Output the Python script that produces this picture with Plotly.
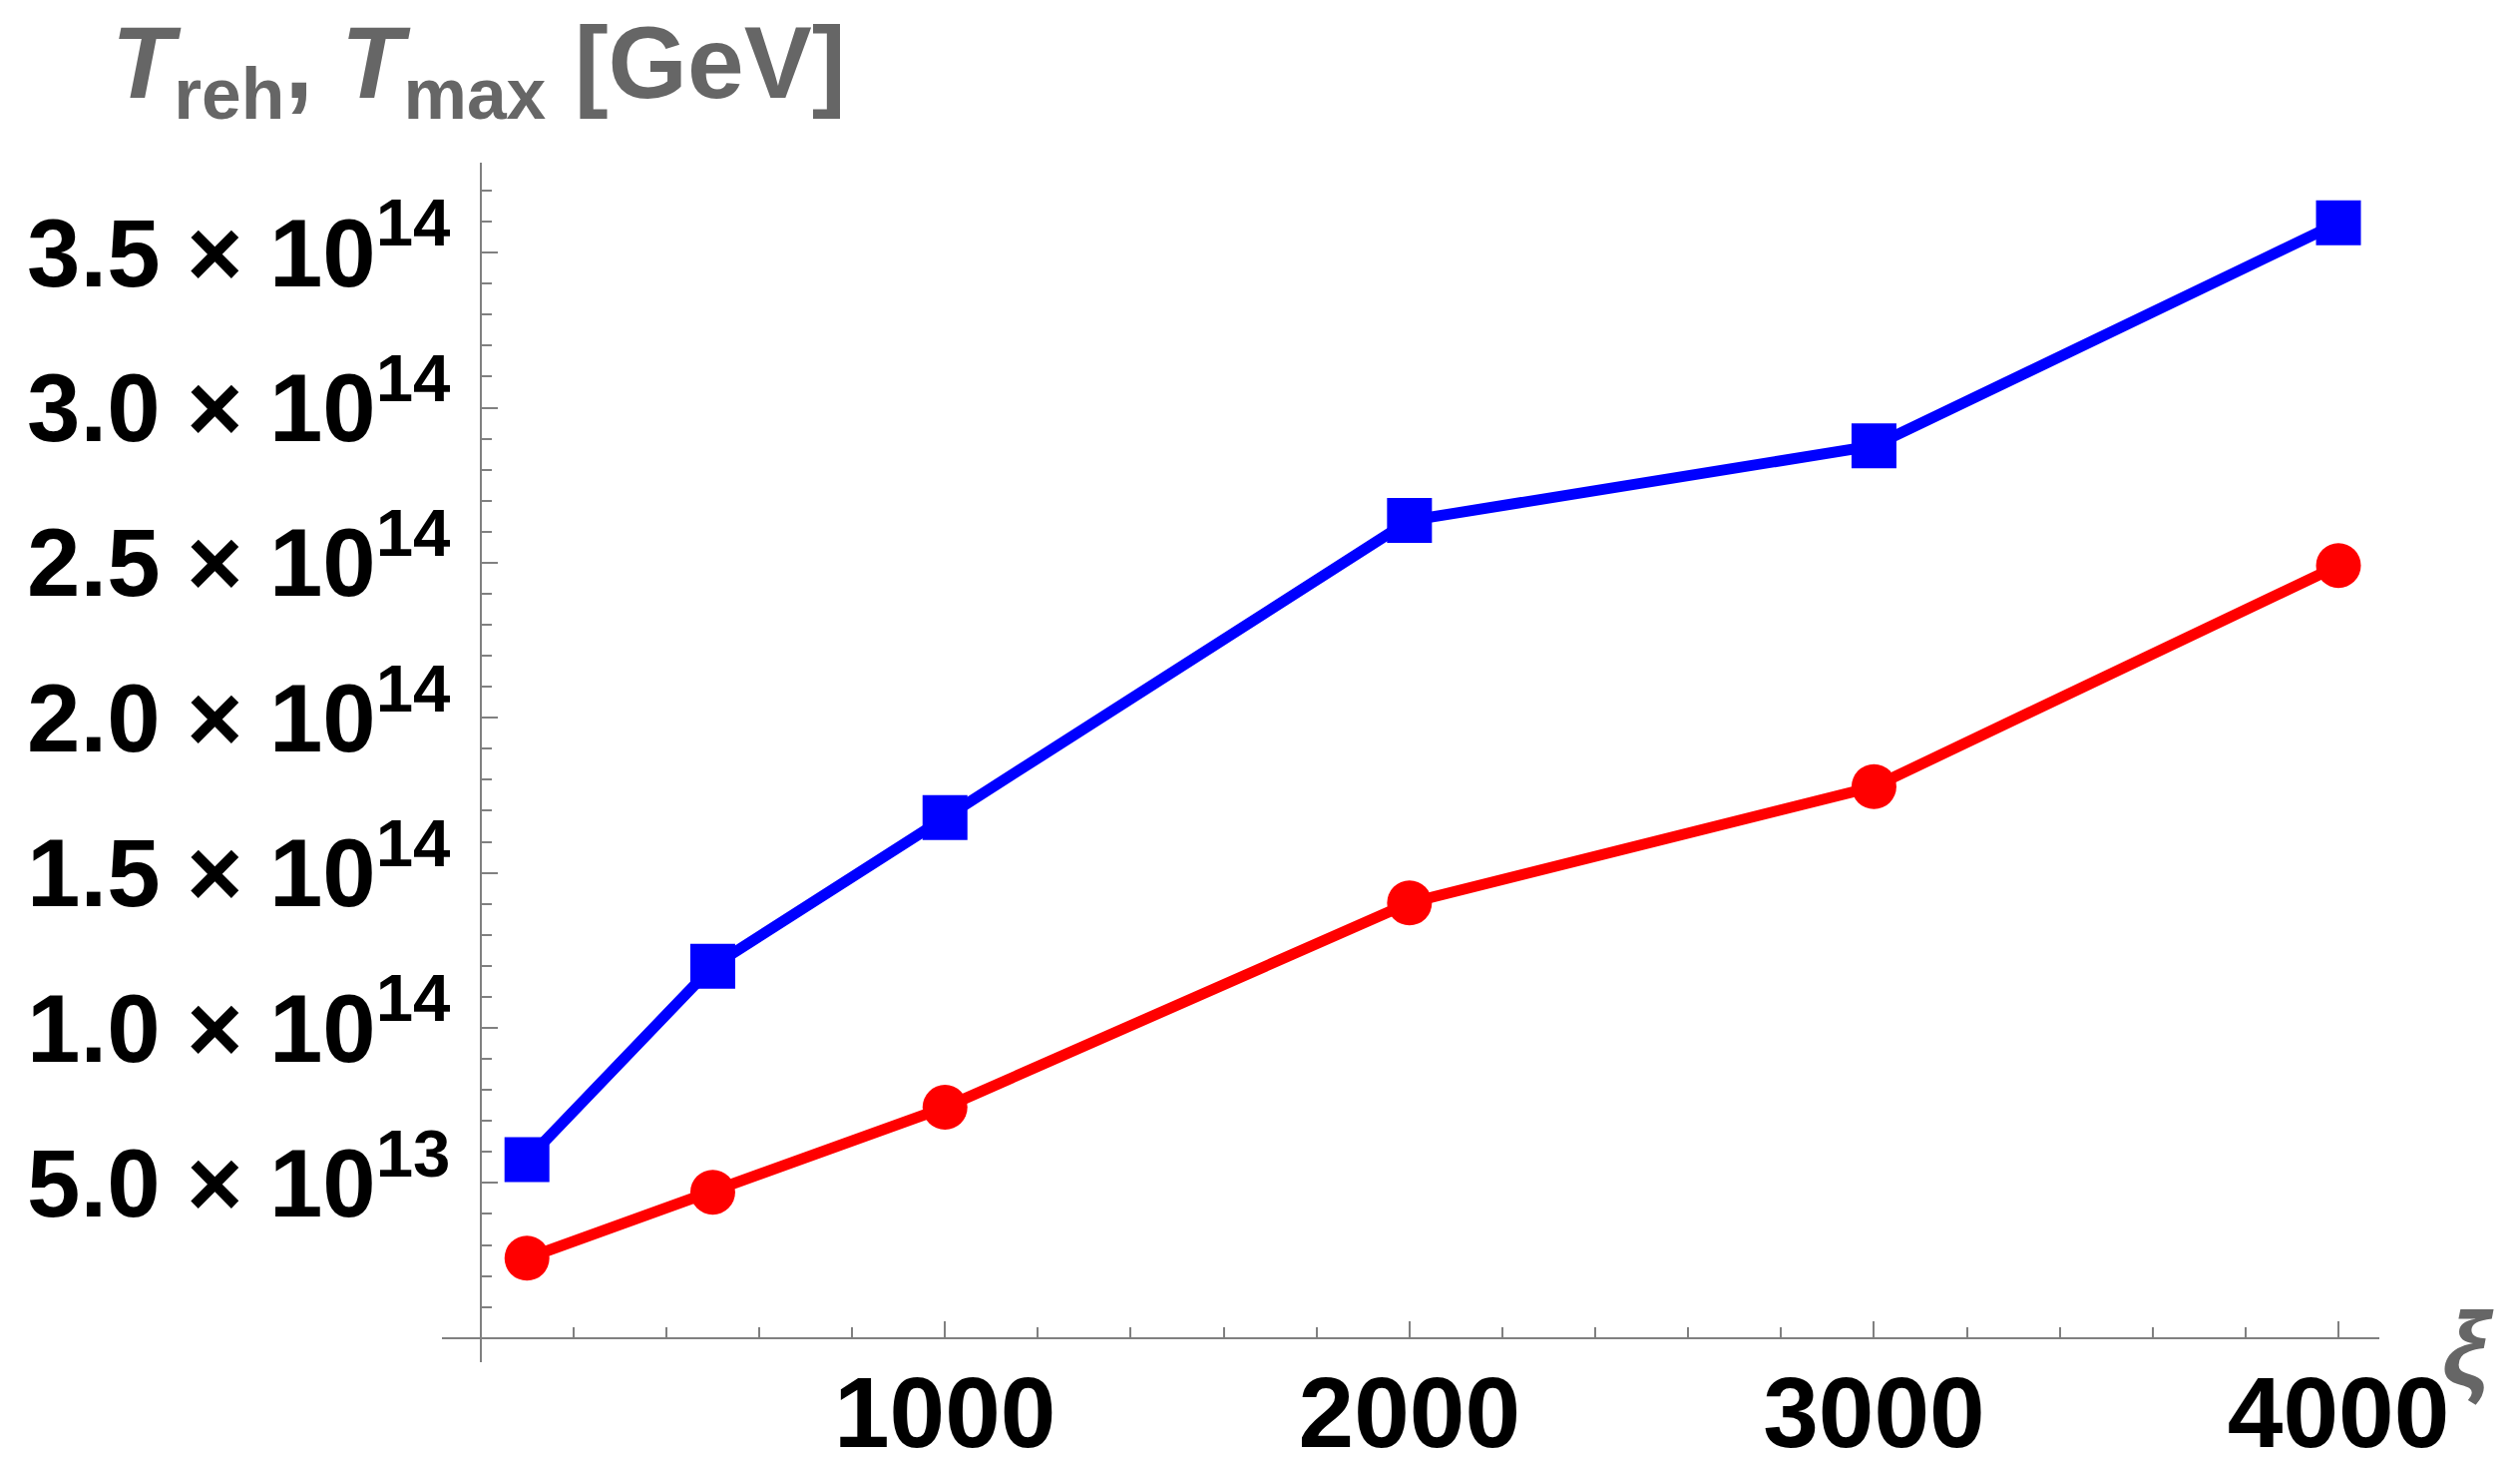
import plotly.graph_objects as go

# ---- data ----
xi_values = [100, 500, 1000, 2000, 3000, 4000]
T_max = [0.575e14, 1.199e14, 1.678e14, 2.636e14, 2.877e14, 3.596e14]
T_reh = [0.2575e14, 0.470e14, 0.744e14, 1.403e14, 1.778e14, 2.491e14]

x_tick_vals = [1000, 2000, 3000, 4000]
x_tick_text = ["1000", "2000", "3000", "4000"]
y_tick_vals = [0.5e14, 1.0e14, 1.5e14, 2.0e14, 2.5e14, 3.0e14, 3.5e14]
y_tick_text = ["5.0 \u00d7 10<sup>13</sup>", "1.0 \u00d7 10<sup>14</sup>", "1.5 \u00d7 10<sup>14</sup>",
               "2.0 \u00d7 10<sup>14</sup>", "2.5 \u00d7 10<sup>14</sup>", "3.0 \u00d7 10<sup>14</sup>",
               "3.5 \u00d7 10<sup>14</sup>"]

y_label = "<i>T</i><sub>reh</sub>, <i>T</i><sub>max</sub> [GeV]"
x_label = "<i>\u03be</i>"

# ---- geometry ----
W, H = 2526, 1461
ML, MR, MT, MB = 443, 141, 163, 96
X_RANGE = [-83, 4088]
Y_RANGE = [-0.078e14, 3.79e14]
PW, PH = W - ML - MR, H - MT - MB

def px_to_paper_x(px):
    return (px - ML) / PW

def px_to_paper_y(py):
    return (H - MB - py) / PH

AXIS_COLOR = "#808080"
LABEL_GREY = "#666666"
FONT = "Liberation Sans"

fig = go.Figure()
fig.add_trace(go.Scatter(
    x=xi_values, y=T_reh, mode="lines+markers",
    line=dict(color="#ff0000", width=11),
    marker=dict(symbol="circle", size=45, color="#ff0000", line=dict(width=0)),
    name="T_reh", cliponaxis=False))
fig.add_trace(go.Scatter(
    x=xi_values, y=T_max, mode="lines+markers",
    line=dict(color="#0000ff", width=11),
    marker=dict(symbol="square", size=45, color="#0000ff", line=dict(width=0)),
    name="T_max", cliponaxis=False))

x0_paper = (0 - X_RANGE[0]) / (X_RANGE[1] - X_RANGE[0])
y0_paper = (0 - Y_RANGE[0]) / (Y_RANGE[1] - Y_RANGE[0])

fig.update_layout(
    width=W, height=H, autosize=False,
    margin=dict(l=ML, r=MR, t=MT, b=MB, pad=0, autoexpand=False),
    plot_bgcolor="white", paper_bgcolor="white",
    showlegend=False,
    xaxis=dict(
        range=X_RANGE, domain=[0, 1], anchor="free", position=y0_paper,
        automargin=False,
        showgrid=False, zeroline=False,
        showline=True, linecolor=AXIS_COLOR, linewidth=2,
        tickmode="array", tickvals=x_tick_vals, ticktext=x_tick_text,
        ticks="inside", ticklen=16, tickwidth=2, tickcolor=AXIS_COLOR,
        tickfont=dict(family=FONT, size=100, color="black", weight="bold"),
        ticklabelstandoff=-12,
        minor=dict(tickmode="linear", tick0=0, dtick=200, ticks="inside",
                   ticklen=10, tickwidth=2, tickcolor=AXIS_COLOR, showgrid=False),
    ),
    yaxis=dict(
        range=Y_RANGE, domain=[0, 1], anchor="free", position=x0_paper,
        automargin=False,
        showgrid=False, zeroline=False,
        showline=True, linecolor=AXIS_COLOR, linewidth=2,
        tickmode="array", tickvals=y_tick_vals, ticktext=y_tick_text,
        ticks="inside", ticklen=16, tickwidth=2, tickcolor=AXIS_COLOR,
        tickfont=dict(family=FONT, size=96, color="black", weight="bold"),
        ticklabelstandoff=10,
        minor=dict(tickmode="linear", tick0=0, dtick=1e13, ticks="inside",
                   ticklen=10, tickwidth=2, tickcolor=AXIS_COLOR, showgrid=False),
    ),
    annotations=[
        dict(text=y_label, xref="paper", yref="paper",
             x=px_to_paper_x(110), y=px_to_paper_y(70), xanchor="left", yanchor="middle",
             showarrow=False,
             font=dict(family=FONT, size=102, color=LABEL_GREY, weight="bold")),
        dict(text=x_label, xref="paper", yref="paper",
             x=px_to_paper_x(2474), y=px_to_paper_y(1351), xanchor="center", yanchor="middle",
             showarrow=False,
             font=dict(family=FONT, size=104, color=LABEL_GREY, weight="bold")),
    ],
)

fig.write_html("out.html")
